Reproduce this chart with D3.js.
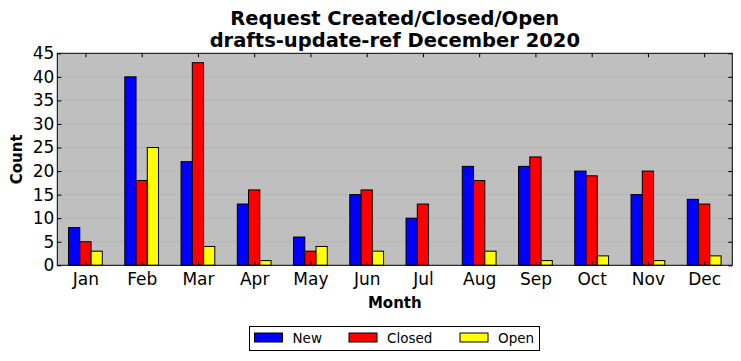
<!DOCTYPE html>
<html><head><meta charset="utf-8">
<script src="https://cdn.jsdelivr.net/npm/d3@7"></script>
<style>body{margin:0;background:#fff}svg{display:block;font-family:"DejaVu Sans",sans-serif}</style>
</head><body><svg id="c" width="741" height="361"></svg>
<script>
const months = ["Jan","Feb","Mar","Apr","May","Jun","Jul","Aug","Sep","Oct","Nov","Dec"];
const newVals = [8,40,22,13,6,15,10,21,21,20,15,14];
const closedVals = [5,18,43,16,3,16,13,18,23,19,20,13];
const openVals = [3,25,4,1,4,3,0,3,1,2,1,2];
const seriesNames = ["New","Closed","Open"];
const seriesColors = ["#0000ff","#ff0000","#ffff00"];
const yTicks = [0,5,10,15,20,25,30,35,40,45];

const series = [newVals, closedVals, openVals];
const svg = d3.select("#c");
const L=57.3, R=732.3, T=53.3, B=265.3;
const x = d3.scaleLinear().domain([0,12]).range([L,R]);
const y = d3.scaleLinear().domain([0,45]).range([B,T]);

svg.append("rect").attr("x",L).attr("y",T).attr("width",R-L).attr("height",B-T).attr("fill","#bfbfbf");
// grid
svg.append("g").selectAll("line").data(yTicks.slice(1,-1)).join("line")
  .attr("x1",L).attr("x2",R).attr("y1",d=>y(d)).attr("y2",d=>y(d))
  .attr("stroke","#8c8c8c").attr("stroke-width",0.8).attr("stroke-dasharray","1,3");
// bars
series.forEach((vals,si)=>{
  svg.append("g").selectAll("rect").data(vals).join("rect")
    .attr("x",(d,i)=>x(i+0.2+0.2*si)).attr("width",x(0.2)-x(0))
    .attr("y",d=>y(d)).attr("height",d=>y(0)-y(d))
    .attr("fill",seriesColors[si]).attr("stroke","#000").attr("stroke-width",1);
});
// frame
svg.append("rect").attr("x",L).attr("y",T).attr("width",R-L).attr("height",B-T).attr("fill","none").attr("stroke","#000").attr("stroke-width",1);
// axes
const xAx = d3.axisBottom(x).tickValues(months.map((m,i)=>i+0.5)).tickFormat((d,i)=>months[i]).tickSizeInner(-4).tickSizeOuter(0).tickPadding(8);
const gx = svg.append("g").attr("transform",`translate(0,${B})`).call(xAx);
const xTop = d3.axisTop(x).tickValues(months.map((m,i)=>i+0.5)).tickFormat("").tickSizeInner(-4).tickSizeOuter(0);
const gxt = svg.append("g").attr("transform",`translate(0,${T})`).call(xTop);
const yAx = d3.axisLeft(y).tickValues(yTicks).tickSizeInner(-4).tickSizeOuter(0).tickPadding(3);
const gy = svg.append("g").attr("transform",`translate(${L},0)`).call(yAx);
const yR = d3.axisRight(y).tickValues(yTicks).tickFormat("").tickSizeInner(-4).tickSizeOuter(0);
const gyr = svg.append("g").attr("transform",`translate(${R},0)`).call(yR);
[gx,gxt,gy,gyr].forEach(g=>{g.select(".domain").remove();g.selectAll("line").attr("stroke","#000");g.selectAll("text").attr("font-size",17).attr("font-family","DejaVu Sans").attr("fill","#000");});
gx.selectAll("text").attr("dy","0.71em");
// titles
svg.append("text").attr("x",(L+R)/2).attr("y",25).attr("text-anchor","middle").attr("font-size",19.5).attr("font-weight","bold").text("Request Created/Closed/Open");
svg.append("text").attr("x",(L+R)/2).attr("y",47).attr("text-anchor","middle").attr("font-size",19.5).attr("font-weight","bold").text("drafts-update-ref December 2020");
svg.append("text").attr("x",(L+R)/2).attr("y",308).attr("text-anchor","middle").attr("font-size",15).attr("font-weight","bold").text("Month");
svg.append("text").attr("transform",`translate(22,${(T+B)/2}) rotate(-90)`).attr("text-anchor","middle").attr("font-size",15).attr("font-weight","bold").text("Count");
// legend
const lg = svg.append("g");
lg.append("rect").attr("x",249.5).attr("y",326.5).attr("width",290).attr("height",24).attr("fill","#fff").attr("stroke","#000");
const lx = [254.5,349,460];
seriesNames.forEach((n,i)=>{
  lg.append("rect").attr("x",lx[i]).attr("y",333).attr("width",28).attr("height",9).attr("fill",seriesColors[i]).attr("stroke","#000");
  lg.append("text").attr("x",lx[i]+38).attr("y",343).attr("font-size",13.5).text(n);
});
</script></body></html>
